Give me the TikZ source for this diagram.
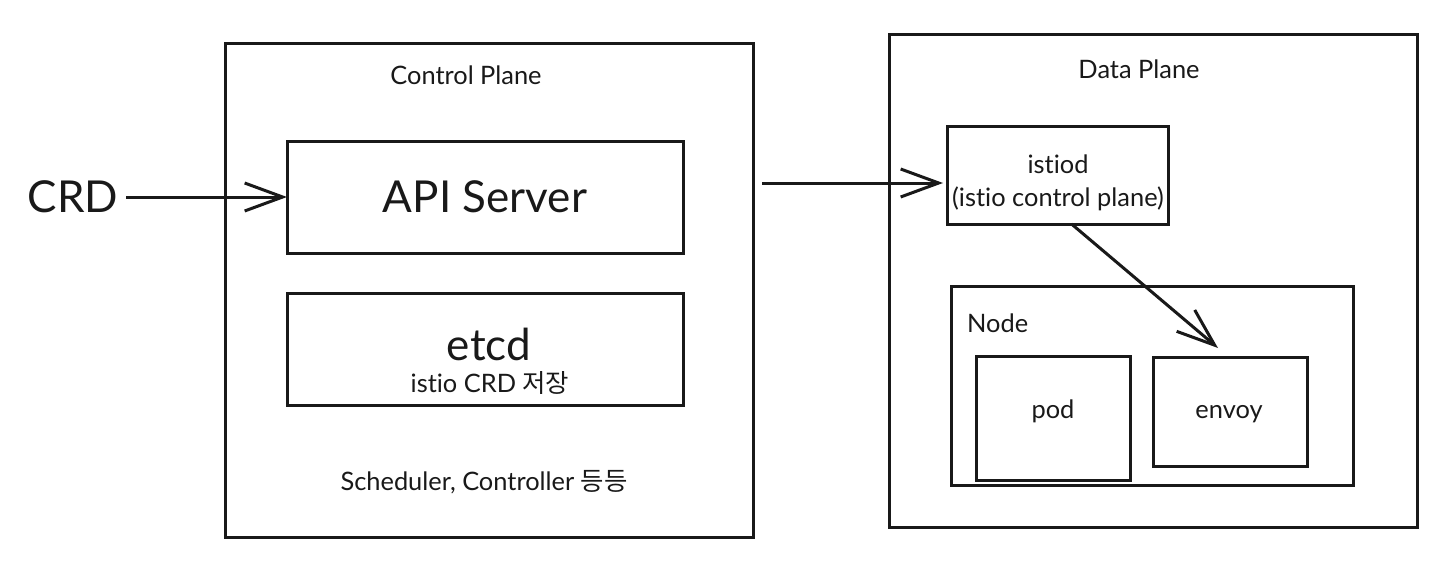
\documentclass[tikz,border=0pt]{standalone}
\usepackage{fontspec}
\setmainfont{Lato}[Ligatures=NoCommon]
\newfontfamily\krfont{Noto Sans CJK KR}
\usetikzlibrary{arrows.meta}

\begin{document}
\begin{tikzpicture}[
  x=0.5pt, y=-0.5pt, line width=1.5pt, color=black!90,
    box/.style={draw, inner sep=0pt, outer sep=0pt, fill=white},
    big/.style={font=\fontsize{22}{26}\selectfont},
    lbl/.style={font=\fontsize{12.7}{16.5}\selectfont, align=center},
    arr/.style={-{Straight Barb[length=19pt,width=14pt,line width=1.5pt]}},
]
\useasboundingbox (0,0) rectangle (1452,562);
% control plane
\node[box, minimum width=264pt, minimum height=247pt] (cp) at (489,290) {};
\node[lbl] (cptitle) at (466,75) {Control Plane};
\node[box, big, minimum width=198pt, minimum height=56pt] (api) at (485,197) {API Server};
\node[box, minimum width=198pt, minimum height=56pt] (etcd) at (485,349) {};
\node[big] (etcdname) at (489,344) {etcd};
\node[lbl] (etcdsub) at (490,383) {istio CRD {\krfont 저장}};
\node[lbl] (sched) at (484,482) {Scheduler, Controller {\krfont 등등}};
\node[big] (crd) at (73,197) {CRD};
% data plane
\node[box, minimum width=264pt, minimum height=246.5pt] (dp) at (1153,280.5) {};
\node[lbl] (dptitle) at (1139,69) {Data Plane};
\node[box, minimum width=110.5pt, minimum height=49pt] (istiod) at (1057.5,175) {};
\node[lbl] (istiodname) at (1058,183) {istiod\\(istio control plane)};
\node[box, minimum width=201pt, minimum height=99.5pt] (node) at (1152,385.5) {};
\node[lbl, anchor=west] (nodename) at (959,323) {Node};
\node[box, minimum width=77pt, minimum height=62pt] (pod) at (1053,418) {};
\node[lbl] (podname) at (1053,411) {pod};
\node[box, minimum width=77pt, minimum height=54.5pt] (envoy) at (1230,411.5) {};
\node[lbl] (envoyname) at (1229,414) {envoy};
\coordinate (cpout) at (762,183);
% arrows
\draw[arr] (crd) -- (api);
\draw[arr] (cpout) -- ([xshift=-2pt]cpout -| istiod.west);
\draw[arr] ([xshift=7pt]istiod.south) -- ([xshift=-6pt,yshift=4.5pt]envoy.north);
\end{tikzpicture}
\end{document}
